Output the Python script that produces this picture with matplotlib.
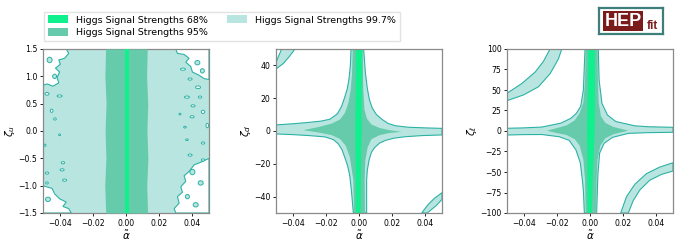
import matplotlib
matplotlib.use("Agg")
import matplotlib.pyplot as plt
from matplotlib.patches import Patch, Ellipse, Polygon, Rectangle

# colours of the three credible regions
c68 = "#10f08c"
c95 = "#66cbaa"
c997 = "#b9e5e1"
cline = "#2cb2a4"

labels = ["Higgs Signal Strengths 68%", "Higgs Signal Strengths 95%",
          "Higgs Signal Strengths 99.7%"]

# ---- panel 1: zeta_u vs alpha ----
p1_z = [-1.5, -1.0, -0.5, 0.0, 0.5, 1.0, 1.5]
p1_95_lo = [-0.0122, -0.0128, -0.0121, -0.0126, -0.0120, -0.0127, -0.0123]
p1_95_hi = [0.0130, 0.0125, 0.0132, 0.0126, 0.0131, 0.0124, 0.0128]
p1_68_lo = [-0.0007] * 7
p1_68_hi = [0.0016] * 7

# white (outside 99.7%) patches near the edges
p1_white_tl = [(-0.05, 1.5), (-0.036, 1.5), (-0.0345, 1.42), (-0.037, 1.33),
               (-0.0405, 1.30), (-0.0395, 1.22), (-0.0425, 1.15), (-0.040, 1.08),
               (-0.0415, 0.98), (-0.0405, 0.88), (-0.044, 0.82), (-0.0475, 0.86),
               (-0.05, 0.84)]
p1_white_bl = [(-0.05, -1.5), (-0.033, -1.5), (-0.0345, -1.42), (-0.038, -1.38),
               (-0.036, -1.30), (-0.040, -1.24), (-0.043, -1.15), (-0.0445, -1.05),
               (-0.048, -1.02), (-0.05, -1.0)]
p1_white_rt = [(0.05, 1.5), (0.030, 1.5), (0.031, 1.42), (0.035, 1.40),
               (0.038, 1.33), (0.036, 1.26), (0.039, 1.18), (0.040, 1.08),
               (0.044, 1.02), (0.047, 0.96), (0.05, 0.94)]
p1_white_rb = [(0.05, -0.50), (0.046, -0.56), (0.041, -0.62), (0.038, -0.74),
               (0.035, -0.82), (0.036, -0.92), (0.033, -1.02), (0.034, -1.12),
               (0.031, -1.20), (0.032, -1.32), (0.029, -1.42), (0.030, -1.5),
               (0.05, -1.5)]
# small holes: centre alpha, centre zeta, half width, half height
hole_a = [-0.0476, -0.040, -0.0448, -0.0428, -0.040, -0.0488, -0.038, -0.0385,
          -0.0476, -0.037, -0.0476, 0.0343, 0.0386, 0.0434, 0.0367, 0.0446,
          0.0404, 0.0464, 0.0398, 0.0325, 0.0355, 0.0367, 0.0464, 0.0386,
          0.0464, 0.049]
hole_z = [0.68, 0.64, 0.37, 0.22, -0.07, -0.26, -0.58, -0.71, -0.77, -0.90,
          -0.95, 1.13, 0.95, 0.80, 0.62, 0.62, 0.46, 0.35, 0.26, 0.31, 0.07,
          -0.16, -0.22, -0.44, -0.53, 0.10]
hole_w = [0.0012, 0.0015, 0.0008, 0.0008, 0.0006, 0.0006, 0.0010, 0.0012,
          0.0010, 0.0012, 0.0008, 0.0015, 0.0012, 0.0015, 0.0015, 0.0010,
          0.0012, 0.0010, 0.0012, 0.0006, 0.0008, 0.0008, 0.0010, 0.0012,
          0.0010, 0.0008]
hole_h = [0.025, 0.020, 0.030, 0.020, 0.015, 0.020, 0.020, 0.020, 0.020, 0.020,
          0.020, 0.020, 0.020, 0.025, 0.020, 0.020, 0.020, 0.030, 0.020, 0.015,
          0.015, 0.015, 0.020, 0.020, 0.020, 0.040]
# light islands inside the white patches
isl_a = [-0.046, -0.043, -0.047, 0.043, 0.046, 0.040, 0.045, 0.037, 0.042]
isl_z = [1.30, 1.00, -1.25, 1.25, 1.10, -0.75, -0.95, -1.20, -1.35]
isl_w = [0.0015, 0.0012, 0.0015, 0.0015, 0.0012, 0.0015, 0.0015, 0.0012, 0.0015]
isl_h = [0.05, 0.04, 0.04, 0.04, 0.04, 0.05, 0.04, 0.04, 0.04]

# ---- panel 2: zeta_d vs alpha ----
p2_997 = [(-0.0048, 50), (-0.0052, 40), (-0.0060, 32), (-0.0070, 26), (-0.0088, 20),
          (-0.0105, 15), (-0.0130, 10.5), (-0.0175, 7.2), (-0.0230, 6.0),
          (-0.0307, 5.2), (-0.0400, 4.4), (-0.05, 3.7), (-0.05, -1.8),
          (-0.0400, -2.2), (-0.0300, -2.8), (-0.0205, -3.6), (-0.0155, -5.2),
          (-0.0125, -7.8), (-0.0102, -11.5), (-0.0086, -16), (-0.0068, -21.5),
          (-0.0056, -27), (-0.0046, -36), (-0.0034, -50), (0.0046, -50),
          (0.0046, -40), (0.0046, -29.9), (0.0050, -24), (0.0060, -18),
          (0.0075, -13), (0.0095, -10), (0.0125, -7.3), (0.0160, -5.7),
          (0.0210, -4.4), (0.0277, -3.5), (0.0380, -2.8), (0.05, -2.4),
          (0.05, 1.6), (0.0400, 1.9), (0.0296, 2.3), (0.0220, 3.2), (0.0175, 4.6),
          (0.0140, 7.0), (0.0105, 10), (0.0080, 14), (0.0063, 19), (0.0050, 26),
          (0.0038, 36), (0.0028, 50)]
p2_95 = [(-0.0038, 50), (-0.0042, 35), (-0.0050, 25), (-0.0064, 17), (-0.0085, 11),
         (-0.0115, 7), (-0.0165, 4.5), (-0.0240, 2.5), (-0.0336, 0.5),
         (-0.0240, -1.0), (-0.0165, -2.5), (-0.0115, -4.8), (-0.0080, -9),
         (-0.0055, -16), (-0.0034, -30), (-0.0030, -50), (0.0036, -50),
         (0.0034, -30), (0.0038, -18), (0.0052, -10), (0.0075, -5.0),
         (0.0125, -2.5), (0.0185, -1.2), (0.0257, -0.5), (0.0185, 0.5),
         (0.0125, 1.8), (0.0075, 4.0), (0.0048, 7.5), (0.0033, 13), (0.0026, 25),
         (0.0022, 50)]
p2_68 = [(-0.0018, 50), (0.0020, 50), (0.0017, 20), (0.0015, 0), (0.0012, -20),
         (0.0010, -50), (-0.0018, -50), (-0.0020, -20), (-0.0022, 0),
         (-0.0020, 20)]
p2_arc_tl = [(-0.05, 41.9), (-0.0485, 45.5), (-0.0466, 50), (-0.0386, 50),
             (-0.0415, 46), (-0.0455, 41.2), (-0.05, 37.8)]
p2_arc_br = [(0.0378, -50), (0.0415, -45), (0.0455, -41), (0.05, -37.6),
             (0.05, -41.7), (0.0465, -45.5), (0.0411, -50)]

# ---- panel 3: zeta_l vs alpha ----
p3_997 = [(-0.0030, 100), (-0.0040, 50), (-0.0056, 30), (-0.0082, 21.6),
          (-0.0115, 15.5), (-0.0175, 9.6), (-0.0290, 4.8), (-0.0400, 3.8),
          (-0.05, 3.3), (-0.05, -4.9), (-0.0400, -4.4), (-0.0290, -4.3),
          (-0.0185, -7.0), (-0.0125, -11.5), (-0.0085, -23), (-0.0058, -39),
          (-0.0046, -60), (-0.0040, -72), (-0.0034, -100), (0.0040, -100),
          (0.0044, -75), (0.0048, -51.6), (0.0058, -27), (0.0085, -15),
          (0.0135, -7.8), (0.0231, -2.9), (0.0350, -2.0), (0.05, -1.6),
          (0.05, 4.5), (0.0350, 5.2), (0.0270, 6.3), (0.0155, 11.6),
          (0.0105, 19.5), (0.0072, 33.8), (0.0055, 62), (0.0050, 100)]
p3_95 = [(-0.0026, 100), (-0.0030, 60), (-0.0040, 35), (-0.0062, 22),
         (-0.0092, 13), (-0.0140, 7), (-0.0200, 3.5), (-0.0260, 0.4),
         (-0.0200, -2.5), (-0.0140, -5), (-0.0092, -10), (-0.0062, -18),
         (-0.0040, -35), (-0.0030, -60), (-0.0026, -100), (0.0038, -100),
         (0.0040, -60), (0.0045, -35), (0.0062, -18), (0.0092, -9),
         (0.0140, -4), (0.0190, -1.5), (0.0230, 0.4), (0.0190, 2.5),
         (0.0140, 5), (0.0092, 10), (0.0066, 18), (0.0052, 35), (0.0048, 60),
         (0.0046, 100)]
p3_68 = [(-0.0010, 100), (0.0030, 100), (0.0030, 50), (0.0028, 0),
         (0.0018, -50), (0.0010, -100), (-0.0014, -100), (-0.0016, -50),
         (-0.0018, 0), (-0.0014, 50)]
p3_arc_tl = [(-0.05, 46), (-0.041, 58), (-0.033, 72), (-0.028, 85),
             (-0.0241, 100), (-0.017, 100), (-0.019, 88), (-0.024, 70),
             (-0.031, 54), (-0.040, 44), (-0.05, 37)]
p3_arc_br = [(0.0185, -100), (0.022, -80), (0.027, -65), (0.034, -52),
             (0.042, -44), (0.05, -38.7), (0.05, -48.8), (0.043, -53),
             (0.036, -60), (0.030, -72), (0.026, -85), (0.0231, -100)]

xticks = [-0.04, -0.02, 0.00, 0.02, 0.04]
p1_yticks = [-1.5, -1.0, -0.5, 0.0, 0.5, 1.0, 1.5]
p2_yticks = [-40, -20, 0, 20, 40]
p3_yticks = [-100, -75, -50, -25, 0, 25, 50, 75, 100]

W, H = 686, 245
fig = plt.figure(figsize=(W / 100, H / 100), dpi=100)


def make_ax(x0, x1, ylim, yticks, ylabel):
    ax = fig.add_axes([x0 / W, 1 - 213 / H, (x1 - x0) / W, 164 / H])
    ax.set_xlim(-0.05, 0.05)
    ax.set_ylim(*ylim)
    ax.set_xticks(xticks)
    ax.set_yticks(yticks)
    ax.tick_params(labelsize=5.6, length=2.5, width=0.6, pad=1.5)
    for s in ax.spines.values():
        s.set_color("#8a8a8a")
        s.set_linewidth(0.9)
    ax.set_xlabel(r"$\tilde{\alpha}$", fontsize=7.5, labelpad=1)
    ax.set_ylabel(ylabel, fontsize=7.5, labelpad=1)
    return ax


def region(ax, pts, color, edge=None):
    ax.add_patch(Polygon(pts, closed=True, facecolor=color,
                         edgecolor=edge if edge else "none",
                         linewidth=0.8 if edge else 0, zorder=2))


# panel 1
ax1 = make_ax(43, 209, (-1.5, 1.5), p1_yticks, r"$\zeta_u$")
ax1.axvspan(-0.05, 0.05, color=c997, lw=0, zorder=1)
for pts in [p1_white_tl, p1_white_bl, p1_white_rt, p1_white_rb]:
    region(ax1, pts, "white", cline)
for a, z, w, h in zip(isl_a, isl_z, isl_w, isl_h):
    ax1.add_patch(Ellipse((a, z), 2 * w, 2 * h, facecolor=c997,
                          edgecolor=cline, lw=0.7, zorder=3))
for a, z, w, h in zip(hole_a, hole_z, hole_w, hole_h):
    ax1.add_patch(Ellipse((a, z), 2 * w, 2 * h, facecolor="white",
                          edgecolor=cline, lw=0.7, zorder=3))
ax1.fill_betweenx(p1_z, p1_95_lo, p1_95_hi, color=c95, lw=0, zorder=4)
ax1.fill_betweenx(p1_z, p1_68_lo, p1_68_hi, color=c68, lw=0, zorder=5)

# panel 2
ax2 = make_ax(276, 442, (-50, 50), p2_yticks, r"$\zeta_d$")
for pts in [p2_997, p2_arc_tl, p2_arc_br]:
    region(ax2, pts, c997, cline)
region(ax2, p2_95, c95)
region(ax2, p2_68, c68)

# panel 3
ax3 = make_ax(507, 673, (-100, 100), p3_yticks, r"$\zeta_\ell$")
for pts in [p3_997, p3_arc_tl, p3_arc_br]:
    region(ax3, pts, c997, cline)
region(ax3, p3_95, c95)
region(ax3, p3_68, c68)

# legend
handles = [Patch(facecolor=c, edgecolor="none") for c in [c68, c95, c997]]
fig.legend(handles, labels, loc="upper left", ncol=2, fontsize=6.8,
           bbox_to_anchor=(39 / W, 1 - 7 / H), frameon=True, fancybox=False,
           edgecolor="#dddddd", handlelength=2.2, handleheight=0.9,
           columnspacing=2.0, borderpad=0.4, labelspacing=0.35)

# HEPfit logo
lax = fig.add_axes([599 / W, 1 - 34 / H, 64 / W, 26 / H])
lax.set_xticks([])
lax.set_yticks([])
for s in lax.spines.values():
    s.set_color("#3f7f7b")
    s.set_linewidth(1.6)
lax.add_patch(Rectangle((0.06, 0.12), 0.63, 0.76, facecolor="#7a1c1c",
                        edgecolor="none", transform=lax.transAxes))
lax.text(0.375, 0.47, "HEP", color="white", fontsize=13, fontweight="bold",
         family="Liberation Sans", ha="center", va="center",
         transform=lax.transAxes)
lax.text(0.84, 0.30, "fit", color="#7a1c1c", fontsize=8.5, fontweight="bold",
         family="Liberation Sans", ha="center", va="center",
         transform=lax.transAxes)

fig.savefig("out.png", dpi=100)
